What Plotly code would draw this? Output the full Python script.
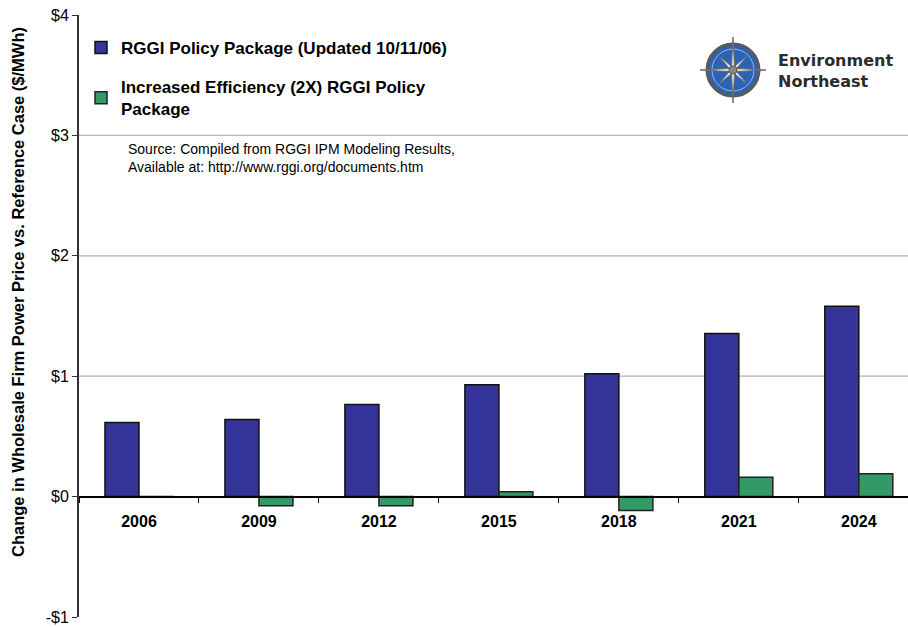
import plotly.graph_objects as go
import math

years = ["2006", "2009", "2012", "2015", "2018", "2021", "2024"]
rggi = [0.615, 0.64, 0.765, 0.93, 1.02, 1.355, 1.58]
eff2x = [-0.005, -0.075, -0.075, 0.04, -0.115, 0.16, 0.19]
ytick_vals = [-1, 0, 1, 2, 3, 4]
ytick_text = ["-$1", "$0", "$1", "$2", "$3", "$4"]
grid_vals = [1, 2, 3]

W, H = 908, 627
ML, MR, MT, MB = 79, 0, 15, 10
PW, PH = W - ML - MR, H - MT - MB

def px(x):
    return (x - ML) / PW

def py(y):
    return (H - MB - y) / PH

fig = go.Figure()
fig.add_trace(go.Bar(
    x=years, y=rggi, name="RGGI Policy Package (Updated 10/11/06)",
    marker=dict(color="#333399", line=dict(color="#111111", width=1.5)),
    legendgroup="a"))
fig.add_trace(go.Bar(
    x=years, y=eff2x, name="Increased Efficiency (2X) RGGI Policy<br>Package",
    marker=dict(color="#339966", line=dict(color="#222222", width=1.5)),
    legendgroup="b"))

shapes = []
for g in grid_vals:
    shapes.append(dict(type="line", xref="paper", yref="y", x0=0, x1=1, y0=g, y1=g,
                       line=dict(color="#b4b4b4", width=1.2), layer="below"))

# compass logo
cx, cy, r = 733, 70, 26
shapes.append(dict(type="circle", xref="paper", yref="paper",
                   x0=px(cx - r), x1=px(cx + r), y0=py(cy + r), y1=py(cy - r),
                   fillcolor="#2a63b8", line=dict(color="#5a5a5a", width=3)))
shapes.append(dict(type="circle", xref="paper", yref="paper",
                   x0=px(cx - r + 5), x1=px(cx + r - 5), y0=py(cy + r - 5), y1=py(cy - r + 5),
                   fillcolor="rgba(0,0,0,0)", line=dict(color="#9bb8e0", width=1)))

def star(n_long, n_short, rot=0.0):
    pts = []
    for k in range(8):
        ang = rot + k * math.pi / 4
        rr = n_long if k % 2 == 0 else n_short
        pts.append((cx + rr * math.sin(ang), cy - rr * math.cos(ang)))
        ang2 = ang + math.pi / 8
        pts.append((cx + 4 * math.sin(ang2), cy - 4 * math.cos(ang2)))
    d = "M " + " L ".join(f"{px(a):.5f},{py(b):.5f}" for a, b in pts) + " Z"
    return d

shapes.append(dict(type="path", xref="paper", yref="paper", path=star(33, 20),
                   fillcolor="#e6e6e6", line=dict(color="#6a6a6a", width=1)))
shapes.append(dict(type="circle", xref="paper", yref="paper",
                   x0=px(cx - 4), x1=px(cx + 4), y0=py(cy + 4), y1=py(cy - 4),
                   fillcolor="#888888", line=dict(color="#555555", width=1)))

annotations = [
    dict(text="Environment<br>Northeast", xref="paper", yref="paper",
         x=px(776), y=py(71), xanchor="left", yanchor="middle", align="left",
         showarrow=False, font=dict(family="DejaVu Sans", size=16, color="#2b2b2b", weight="bold")),
    dict(text="Source: Compiled from RGGI IPM Modeling Results,<br>Available at: http://www.rggi.org/documents.htm",
         xref="paper", yref="paper", x=px(126), y=py(158), xanchor="left", yanchor="middle",
         align="left", showarrow=False,
         font=dict(family="Liberation Sans, Arial", size=14, color="#000000")),
    dict(text="<b>Change in Wholesale Firm Power Price vs. Reference Case ($/MWh)</b>",
         xref="paper", yref="paper", x=px(18), y=py(292), xanchor="center", yanchor="middle",
         textangle=-90, showarrow=False,
         font=dict(family="Liberation Sans, Arial", size=16.5, color="#000000")),
]

zero_pos = (0 - (-1)) / (4 - (-1))

fig.update_layout(
    width=W, height=H,
    margin=dict(l=ML, r=MR, t=MT, b=MB),
    paper_bgcolor="white", plot_bgcolor="white",
    barmode="group", bargap=0.433, bargroupgap=0,
    font=dict(family="Liberation Sans, Arial", color="#000000"),
    showlegend=True,
    legend=dict(x=px(81), y=py(30), xanchor="left", yanchor="top",
                font=dict(size=17, weight="bold", family="Liberation Sans, Arial"),
                bgcolor="rgba(255,255,255,0)", tracegroupgap=14, traceorder="grouped",
                itemwidth=30),
    xaxis=dict(type="category", range=[-0.5, 6.41], anchor="free", position=zero_pos,
               showline=True, linecolor="#000000", linewidth=1.5,
               ticks="outside", tickson="boundaries", ticklen=6, tickcolor="#000000",
               ticklabelstandoff=10,
               tickfont=dict(size=16, weight="bold"), showgrid=False, zeroline=False,
               fixedrange=True),
    yaxis=dict(range=[-1, 4], tickvals=ytick_vals, ticktext=ytick_text,
               showline=True, linecolor="#333333", linewidth=2,
               ticks="outside", ticklen=5, tickcolor="#333333",
               tickfont=dict(size=16), showgrid=False, zeroline=False),
    shapes=shapes, annotations=annotations,
)

fig.write_html("out.html")
